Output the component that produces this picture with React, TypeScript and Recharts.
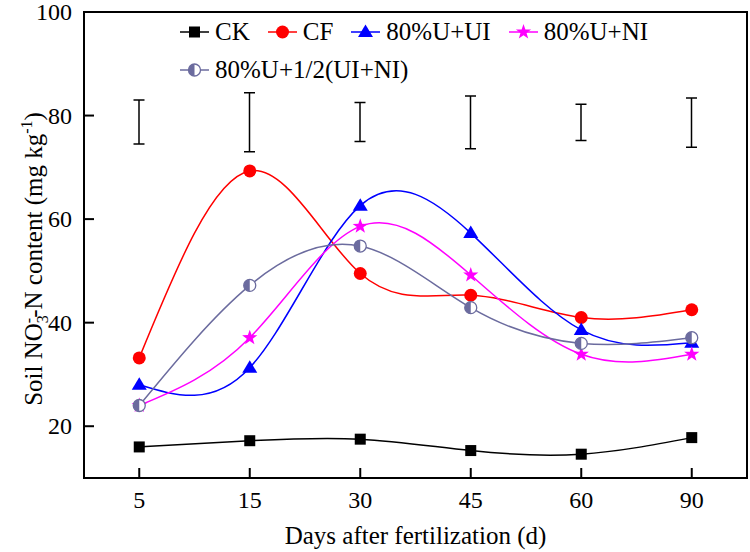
import React from "react";
import { ComposedChart, Line, Bar, XAxis, YAxis, Legend, Label, ReferenceArea } from "recharts";

// Soil NO3--N content by days after fertilization
const days = ["5", "15", "30", "45", "60", "90"];
const ck = [16.0, 17.2, 17.5, 15.3, 14.6, 17.8];
const cf = [33.2, 69.3, 49.5, 45.3, 41.0, 42.5];
const uUI = [28.0, 31.3, 62.6, 57.3, 38.6, 36.1];
const uNI = [24.0, 37.1, 58.6, 49.2, 33.9, 33.9];
const uHalf = [24.0, 47.2, 54.8, 42.9, 36.0, 37.1];
// LSD bars drawn above the curves
const lsdLow = [74.5, 73.0, 75.0, 73.6, 75.2, 73.9];
const lsdHigh = [83.0, 84.4, 82.5, 83.8, 82.2, 83.4];
const yTicks = [20, 40, 60, 80, 100];

type Shape = "square" | "circle" | "triangle" | "star" | "half";

const series: { key: string; name: string; color: string; shape: Shape; values: number[] }[] = [
  { key: "ck", name: "CK", color: "#000000", shape: "square", values: ck },
  { key: "cf", name: "CF", color: "#FF0000", shape: "circle", values: cf },
  { key: "ui", name: "80%U+UI", color: "#0000FF", shape: "triangle", values: uUI },
  { key: "ni", name: "80%U+NI", color: "#FF00FF", shape: "star", values: uNI },
  { key: "half", name: "80%U+1/2(UI+NI)", color: "#6B6B9E", shape: "half", values: uHalf },
];

const data = days.map((d, i) => {
  const row: Record<string, any> = { day: d, lsd: [lsdLow[i], lsdHigh[i]] };
  for (const s of series) row[s.key] = s.values[i];
  return row;
});

const font = "'Liberation Serif', 'Times New Roman', serif";

function starPoints(cx: number, cy: number, outer: number, inner: number): string {
  const pts: string[] = [];
  for (let k = 0; k < 10; k++) {
    const r = k % 2 === 0 ? outer : inner;
    const a = -Math.PI / 2 + (k * Math.PI) / 5;
    pts.push(`${cx + r * Math.cos(a)},${cy + r * Math.sin(a)}`);
  }
  return pts.join(" ");
}

function Marker({ shape, color, cx, cy }: { shape: Shape; color: string; cx: number; cy: number }) {
  switch (shape) {
    case "square":
      return <rect x={cx - 5.5} y={cy - 5.5} width={11} height={11} fill={color} />;
    case "circle":
      return <circle cx={cx} cy={cy} r={6.5} fill={color} />;
    case "triangle":
      return (
        <polygon
          points={`${cx},${cy - 7.5} ${cx - 7.5},${cy + 5} ${cx + 7.5},${cy + 5}`}
          fill={color}
        />
      );
    case "star":
      return <polygon points={starPoints(cx, cy, 8, 3.2)} fill={color} />;
    case "half":
      return (
        <g>
          <circle cx={cx} cy={cy} r={6} fill="#FFFFFF" stroke={color} strokeWidth={1.3} />
          <path d={`M${cx},${cy - 6} A6,6 0 0 0 ${cx},${cy + 6} Z`} fill={color} />
        </g>
      );
  }
  return null;
}

// I-beam for the LSD range bars
function LsdShape(p: any) {
  const cx = p.x + p.width / 2;
  const top = Math.min(p.y, p.y + p.height);
  const bottom = Math.max(p.y, p.y + p.height);
  const half = 5.5;
  return (
    <g>
      <line x1={cx} y1={top} x2={cx} y2={bottom} stroke="#000" strokeWidth={1.5} />
      <line x1={cx - half} y1={top} x2={cx + half} y2={top} stroke="#000" strokeWidth={1.5} />
      <line x1={cx - half} y1={bottom} x2={cx + half} y2={bottom} stroke="#000" strokeWidth={1.5} />
    </g>
  );
}

// ticks point into the plot, so draw them with the label
function XTick({ x, y, payload }: any) {
  return (
    <g>
      <line x1={x} y1={y} x2={x} y2={y - 10} stroke="#000" strokeWidth={2} />
      <text x={x} y={y + 30} textAnchor="middle" fill="#000" style={{ fontFamily: font, fontSize: 24 }}>
        {payload.value}
      </text>
    </g>
  );
}

function YTick({ x, y, payload }: any) {
  return (
    <g>
      <line x1={x} y1={y} x2={x + 10} y2={y} stroke="#000" strokeWidth={2} />
      <text x={x - 12} y={y} dy="0.34em" textAnchor="end" fill="#000" style={{ fontFamily: font, fontSize: 24 }}>
        {payload.value}
      </text>
    </g>
  );
}

function renderLegend() {
  const rows = [series.slice(0, 4), series.slice(4)];
  return (
    <div style={{ position: "absolute", left: 180, top: 13, fontFamily: font, fontSize: 25, color: "#000" }}>
      {rows.map((row, ri) => (
        <div key={ri} style={{ display: "flex", alignItems: "center", height: 38, whiteSpace: "nowrap" }}>
          {row.map((s) => (
            <div key={s.key} style={{ display: "flex", alignItems: "center", marginRight: 18 }}>
              <svg width={29} height={20} style={{ marginRight: 6 }}>
                <line x1={0} y1={10} x2={29} y2={10} stroke={s.color} strokeWidth={1.5} />
                <Marker shape={s.shape} color={s.color} cx={14.5} cy={10} />
              </svg>
              <span style={{ lineHeight: "38px", fontFamily: font }}>{s.name}</span>
            </div>
          ))}
        </div>
      ))}
    </div>
  );
}

function renderYTitle() {
  const cx = 42;
  const cy = 259;
  return (
    <text
      x={cx}
      y={cy}
      transform={`rotate(-90, ${cx}, ${cy})`}
      textAnchor="middle"
      style={{ fontFamily: font, fontSize: 25, fill: "#000" }}
    >
      Soil NO
      <tspan dy={6} fontSize={16}>3</tspan>
      <tspan dx={-8} dy={-14} fontSize={16}>-</tspan>
      <tspan dy={8}>-N content (mg kg</tspan>
      <tspan dy={-10} fontSize={16}>-1</tspan>
      <tspan dy={10}>)</tspan>
    </text>
  );
}

const axisLine = { stroke: "#000", strokeWidth: 2 };

export default function App() {
  return (
    <div style={{ position: "fixed", left: 0, top: 0, width: 750, height: 552, background: "#fff" }}>
      <ComposedChart width={750} height={552} data={data} margin={{ top: 12, right: 3, bottom: 0, left: 0 }}>
        <XAxis
          dataKey="day"
          height={74}
          axisLine={axisLine}
          tickLine={false}
          tickSize={0}
          tickMargin={0}
          tick={<XTick />}
          interval={0}
        >
          <Label
            value="Days after fertilization (d)"
            position="insideBottom"
            offset={8}
            style={{ fontFamily: font, fontSize: 25, fill: "#000" }}
          />
        </XAxis>
        <YAxis
          type="number"
          domain={[10, 100]}
          ticks={yTicks}
          width={84}
          axisLine={axisLine}
          tickLine={false}
          tickSize={0}
          tickMargin={0}
          tick={<YTick />}
          allowDataOverflow
          label={renderYTitle}
        />
        <ReferenceArea y1={10} y2={100} fill="none" stroke="#000" strokeWidth={2} ifOverflow="visible" />
        <Legend
          content={renderLegend}
          layout="horizontal"
          verticalAlign="middle"
          align="center"
          wrapperStyle={{ top: 0, left: 0, width: 750, height: 90 }}
        />
        <Bar
          dataKey="lsd"
          barSize={12}
          fill="none"
          legendType="none"
          shape={LsdShape}
          isAnimationActive={false}
        />
        {series.map((s) => (
          <Line
            key={s.key}
            dataKey={s.key}
            name={s.name}
            type="natural"
            stroke={s.color}
            strokeWidth={1.5}
            isAnimationActive={false}
            activeDot={false}
            dot={(p: any) => (
              <Marker key={`${s.key}-${p.index}`} shape={s.shape} color={s.color} cx={p.cx} cy={p.cy} />
            )}
          />
        ))}
      </ComposedChart>
    </div>
  );
}
